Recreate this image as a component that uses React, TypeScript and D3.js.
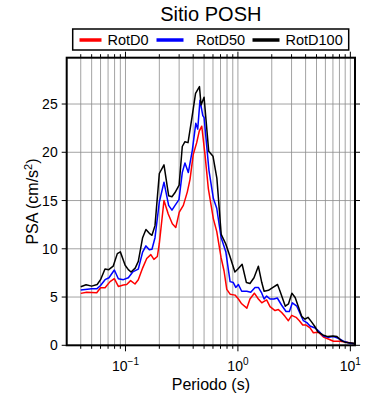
import React from 'react'
import * as d3 from 'd3'

// periodos (s) y PSA (cm/s2)
const periodsD0 = [0.040, 0.0452, 0.0555, 0.060, 0.0658, 0.0729, 0.0796, 0.0864, 0.0957, 0.1025, 0.111, 0.1215, 0.130, 0.142, 0.1545, 0.168, 0.179, 0.192, 0.200, 0.220, 0.240, 0.261, 0.280, 0.301, 0.327, 0.355, 0.375, 0.401, 0.430, 0.453, 0.477, 0.510, 0.546, 0.605, 0.648, 0.708, 0.753, 0.796, 0.852, 0.943, 1.01, 1.08, 1.20, 1.28, 1.40, 1.52, 1.63, 1.68, 1.80, 1.93, 2.14, 2.29, 2.45, 2.62, 2.81, 3.01, 3.29, 3.52, 3.77, 4.04, 4.38, 4.69, 5.2, 5.76, 6.37, 7.07, 8.1, 9.29, 10.8]
const rotD0 = [5.38, 5.5, 5.45, 5.97, 5.97, 6.6, 6.9, 6.1, 6.25, 6.3, 6.7, 6.35, 6.8, 8.0, 9.0, 9.4, 8.9, 9.2, 10.55, 15.0, 13.6, 12.6, 12.2, 13.8, 14.5, 15.9, 17.2, 19.8, 21.0, 22.2, 22.7, 19.7, 16.2, 13.1, 11.8, 9.1, 7.7, 5.8, 5.3, 5.2, 4.8, 4.3, 3.85, 4.8, 5.4, 4.8, 4.4, 4.5, 4.7, 4.0, 3.6, 3.7, 3.4, 3.0, 2.55, 3.1, 2.9, 2.55, 2.1, 2.1, 1.8, 1.3, 1.35, 0.86, 0.65, 0.42, 0.42, 0.31, 0.17]

const periodsD50 = [0.040, 0.050, 0.0555, 0.060, 0.0658, 0.0713, 0.0796, 0.0864, 0.0957, 0.106, 0.116, 0.130, 0.142, 0.152, 0.163, 0.172, 0.183, 0.200, 0.220, 0.242, 0.259, 0.276, 0.299, 0.320, 0.338, 0.362, 0.393, 0.422, 0.439, 0.460, 0.487, 0.500, 0.553, 0.605, 0.648, 0.708, 0.780, 0.852, 0.910, 0.957, 1.01, 1.08, 1.20, 1.30, 1.42, 1.52, 1.63, 1.71, 1.80, 1.93, 2.09, 2.24, 2.45, 2.68, 2.87, 3.05, 3.34, 3.57, 3.82, 4.1, 4.38, 4.85, 5.2, 5.76, 6.37, 7.07, 7.8, 8.67, 9.93, 10.8]
const rotD50 = [5.72, 5.85, 5.85, 6.2, 6.8, 7.0, 7.8, 6.9, 6.8, 7.0, 7.6, 7.9, 9.65, 10.3, 9.9, 9.95, 11.15, 14.85, 16.9, 14.5, 14.0, 14.5, 15.1, 17.9, 18.9, 17.9, 20.2, 23.0, 22.4, 25.4, 23.8, 23.6, 18.1, 15.2, 14.2, 11.2, 9.7, 6.6, 6.5, 6.0, 6.3, 5.6, 5.6, 5.5, 6.0, 6.0, 5.4, 4.8, 5.1, 4.8, 4.8, 4.9, 4.15, 3.5, 3.5, 4.4, 4.05, 3.3, 2.55, 2.35, 2.0, 1.8, 1.5, 0.97, 0.83, 0.9, 0.73, 0.42, 0.21, 0.15]

const periodsD100 = [0.040, 0.0446, 0.050, 0.056, 0.060, 0.0657, 0.071, 0.0777, 0.0846, 0.090, 0.0993, 0.106, 0.112, 0.122, 0.130, 0.142, 0.152, 0.163, 0.172, 0.183, 0.200, 0.220, 0.242, 0.259, 0.275, 0.300, 0.320, 0.338, 0.360, 0.390, 0.420, 0.455, 0.470, 0.500, 0.550, 0.600, 0.650, 0.710, 0.780, 0.850, 0.940, 1.00, 1.09, 1.19, 1.28, 1.39, 1.52, 1.63, 1.71, 1.87, 2.05, 2.25, 2.37, 2.64, 2.82, 3.02, 3.23, 3.45, 3.69, 3.95, 4.2, 4.5, 4.8, 5.15, 5.7, 6.3, 7.0, 7.6, 8.3, 9.2, 10.8]
const rotD100 = [6.07, 6.27, 6.13, 6.3, 6.8, 7.9, 7.84, 8.2, 9.5, 9.68, 8.3, 7.84, 7.6, 8.0, 8.7, 11.15, 12.0, 11.6, 11.4, 12.4, 17.8, 18.7, 15.5, 15.4, 15.8, 16.6, 20.6, 21.1, 21.0, 23.6, 26.1, 26.8, 24.9, 25.7, 20.1, 19.6, 17.3, 11.5, 10.5, 9.2, 7.6, 7.9, 8.4, 6.5, 6.4, 7.0, 8.2, 6.5, 5.6, 5.7, 6.0, 6.3, 5.6, 4.05, 4.3, 5.4, 4.95, 4.0, 3.0, 2.7, 2.9, 2.45, 2.0, 1.4, 1.07, 0.9, 0.97, 0.9, 0.49, 0.28, 0.21]

const seriesNames = ['RotD0', 'RotD50', 'RotD100']
const seriesColors = ['#ff0000', '#0000ff', '#000000']
const yTicks = [0, 5, 10, 15, 20, 25]
const xMajor = [0.1, 1, 10]
const xMajorExp = ['\u22121', '0', '1']

const series = [
  { name: seriesNames[0], color: seriesColors[0], periods: periodsD0, values: rotD0 },
  { name: seriesNames[1], color: seriesColors[1], periods: periodsD50, values: rotD50 },
  { name: seriesNames[2], color: seriesColors[2], periods: periodsD100, values: rotD100 }
]

const W = 390
const H = 400
const margin = { top: 57.7, right: 35, bottom: 54.7, left: 66.7 }
const font = '"Liberation Sans", Arial, sans-serif'

const App = () => {
  const x = d3.scaleLog().domain([0.03, 11]).range([margin.left, W - margin.right])
  const y = d3.scaleLinear().domain([0, 29.8]).range([H - margin.bottom, margin.top])
  const [x0, x1] = x.range()
  const [y0, y1] = y.range()

  const line = d3.line<[number, number]>()
    .x(d => x(d[0]))
    .y(d => y(d[1]))

  const minor = x.ticks().filter(t => t > 0.0301 && t < 10.99)
  const isMajor = (t: number) => xMajor.some(m => Math.abs(m - t) < 1e-9)

  // legend layout
  const legLine = [79.5, 156.5, 252.5]
  const legLen = [22, 27, 27]
  const legText = [107.5, 196, 285.5]

  return (
    <svg width={W} height={H} style={{ position: 'absolute', left: 0, top: 0 }} fontFamily={font}>
      <rect width={W} height={H} fill='white' />
      {/* grid */}
      <g stroke='#8c8c8c' strokeWidth={0.8}>
        {minor.map(t => (
          <line key={`gx${t}`} x1={x(t)} x2={x(t)} y1={y0} y2={y1} />
        ))}
        {yTicks.filter(v => v > 0).map(v => (
          <line key={`gy${v}`} x1={x0} x2={x1} y1={y(v)} y2={y(v)} />
        ))}
      </g>
      {/* series */}
      <g fill='none' strokeWidth={1.5} strokeLinejoin='round'>
        {series.map(s => (
          <path key={s.name} stroke={s.color}
            d={line(s.periods.map((p, i) => [p, s.values[i]] as [number, number])) || ''} />
        ))}
      </g>
      {/* ticks */}
      <g stroke='black' strokeWidth={1}>
        {minor.map(t => {
          const len = isMajor(t) ? 6 : 3.5
          return (
            <g key={`t${t}`}>
              <line x1={x(t)} x2={x(t)} y1={y0} y2={y0 + len} />
              <line x1={x(t)} x2={x(t)} y1={y1} y2={y1 - len} />
            </g>
          )
        })}
        {yTicks.map(v => (
          <g key={`ty${v}`}>
            <line x1={x0} x2={x0 - 5} y1={y(v)} y2={y(v)} />
            <line x1={x1} x2={x1 + 5} y1={y(v)} y2={y(v)} />
          </g>
        ))}
      </g>
      {/* frame */}
      <rect x={x0} y={y1} width={x1 - x0} height={y0 - y1} fill='none' stroke='black' strokeWidth={2} />
      {/* y labels */}
      {yTicks.map(v => (
        <text key={`ly${v}`} x={x0 - 9} y={y(v) + 5} textAnchor='end' fontSize={14}>{v}</text>
      ))}
      {/* x labels */}
      {xMajor.map((m, i) => (
        <text key={`lx${m}`} x={x(m)} y={y0 + 26} textAnchor='middle' fontSize={14}>
          10<tspan dy={-6} fontSize={10}>{xMajorExp[i]}</tspan>
        </text>
      ))}
      <text x={(x0 + x1) / 2} y={390} textAnchor='middle' fontSize={16}>Periodo (s)</text>
      <text transform={`translate(38, ${(y0 + y1) / 2}) rotate(-90)`} textAnchor='middle' fontSize={16}>
        PSA (cm/s<tspan dy={-6} fontSize={11}>2</tspan><tspan dy={6}>)</tspan>
      </text>
      {/* title */}
      <text x={(x0 + x1) / 2} y={21} textAnchor='middle' fontSize={20}>Sitio POSH</text>
      {/* legend */}
      <rect x={72.7} y={29} width={276} height={21} fill='white' stroke='black' strokeWidth={1.5} />
      {series.map((s, i) => (
        <g key={`leg${s.name}`}>
          <line x1={legLine[i]} x2={legLine[i] + legLen[i]} y1={40} y2={40} stroke={s.color} strokeWidth={3.5} />
          <text x={legText[i]} y={45} fontSize={14.5}>{s.name}</text>
        </g>
      ))}
    </svg>
  )
}

export default App
